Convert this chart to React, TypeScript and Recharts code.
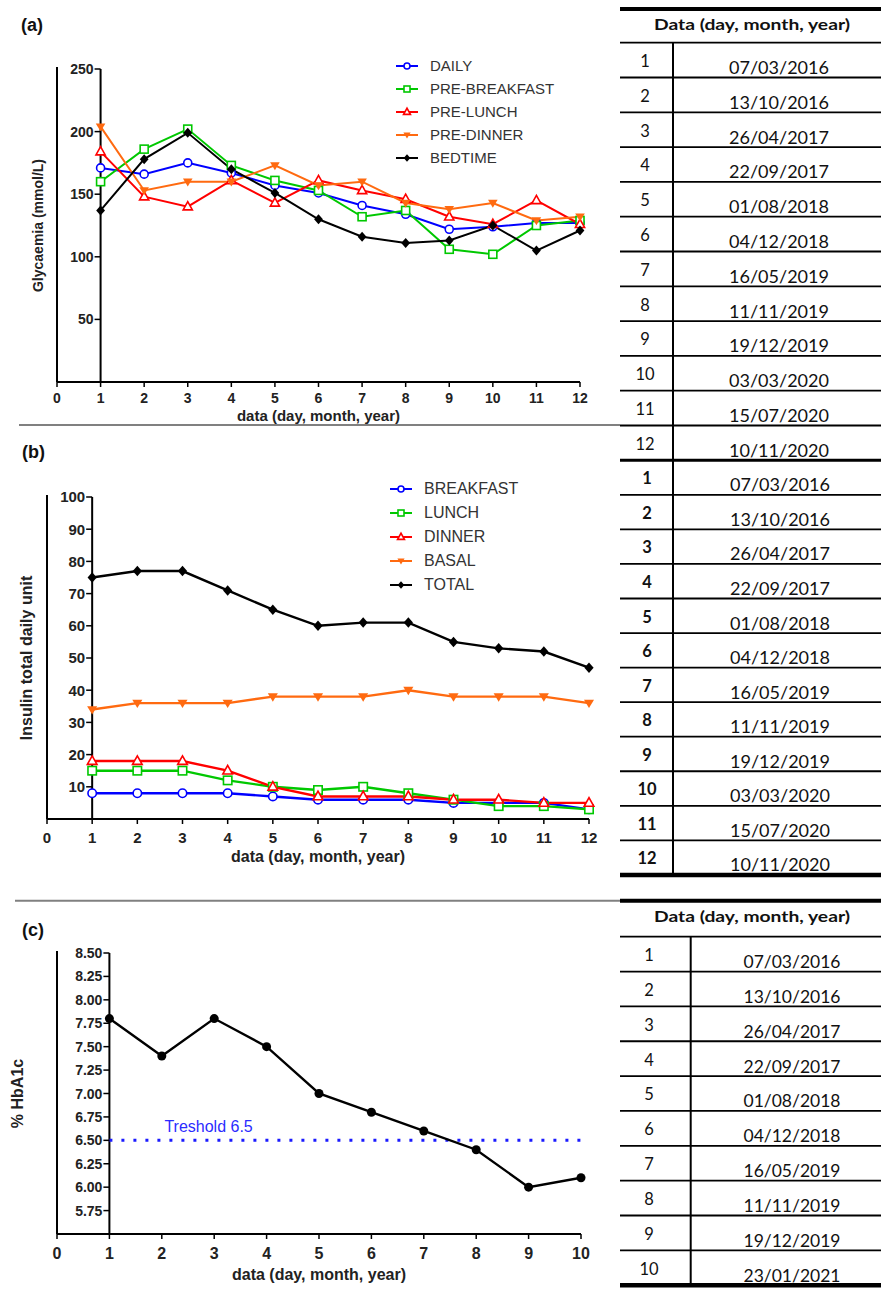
import React from "react";
import {
  LineChart,
  Line,
  XAxis,
  YAxis,
  ReferenceLine,
  Legend,
  Label,
} from "recharts";

// visit numbers (x axis)
const visits12 = [1, 2, 3, 4, 5, 6, 7, 8, 9, 10, 11, 12];
const visits10 = [1, 2, 3, 4, 5, 6, 7, 8, 9, 10];

// (a) glycaemia
const gDaily = [171, 166, 175, 167, 157, 151, 141, 134, 122, 124, 127, 127];
const gPreBreakfast = [160, 186, 202, 173, 161, 153, 132, 137, 106, 102, 125, 129];
const gPreLunch = [184, 148, 140, 161, 143, 161, 153, 146, 132, 126, 145, 126];
const gPreDinner = [204, 153, 160, 160, 173, 157, 160, 143, 138, 143, 129, 132];
const gBedtime = [137, 178, 199, 170, 151, 130, 116, 111, 113, 125, 105, 121];

// (b) insulin units
const iBreakfast = [8, 8, 8, 8, 7, 6, 6, 6, 5, 5, 5, 3];
const iLunch = [15, 15, 15, 12, 10, 9, 10, 8, 6, 4, 4, 3];
const iDinner = [18, 18, 18, 15, 10, 7, 7, 7, 6, 6, 5, 5];
const iBasal = [34, 36, 36, 36, 38, 38, 38, 40, 38, 38, 38, 36];
const iTotal = [75, 77, 77, 71, 65, 60, 61, 61, 55, 53, 52, 47];

// (c) HbA1c
const hba1c = [7.8, 7.4, 7.8, 7.5, 7.0, 6.8, 6.6, 6.4, 6.0, 6.1];
const threshold = 6.5;

// ticks
const xTicks12 = [0, 1, 2, 3, 4, 5, 6, 7, 8, 9, 10, 11, 12];
const xTicks10 = [0, 1, 2, 3, 4, 5, 6, 7, 8, 9, 10];
const yTicksA = [50, 100, 150, 200, 250];
const yTicksB = [10, 20, 30, 40, 50, 60, 70, 80, 90, 100];
const yTicksC = [5.75, 6, 6.25, 6.5, 6.75, 7, 7.25, 7.5, 7.75, 8, 8.25, 8.5];

// table dates
const datesAB = [
  "07/03/2016", "13/10/2016", "26/04/2017", "22/09/2017", "01/08/2018", "04/12/2018",
  "16/05/2019", "11/11/2019", "19/12/2019", "03/03/2020", "15/07/2020", "10/11/2020",
];
const datesC = [
  "07/03/2016", "13/10/2016", "26/04/2017", "22/09/2017", "01/08/2018", "04/12/2018",
  "16/05/2019", "11/11/2019", "19/12/2019", "23/01/2021",
];

const glyData = visits12.map((v, i) => ({
  v,
  daily: gDaily[i],
  preBreakfast: gPreBreakfast[i],
  preLunch: gPreLunch[i],
  preDinner: gPreDinner[i],
  bedtime: gBedtime[i],
}));
const insData = visits12.map((v, i) => ({
  v,
  breakfast: iBreakfast[i],
  lunch: iLunch[i],
  dinner: iDinner[i],
  basal: iBasal[i],
  total: iTotal[i],
}));
const hbData = visits10.map((v, i) => ({ v, hb: hba1c[i] }));

type Kind = "circle" | "square" | "triUp" | "triDown" | "diamond" | "dot";
type Series = { key: string; name: string; color: string; kind: Kind };

const BLUE = "#0000ff";
const GREEN = "#00c800";
const RED = "#ff0000";
const ORANGE = "#ff6a10";
const BLACK = "#000000";

const seriesA: Series[] = [
  { key: "daily", name: "DAILY", color: BLUE, kind: "circle" },
  { key: "preBreakfast", name: "PRE-BREAKFAST", color: GREEN, kind: "square" },
  { key: "preLunch", name: "PRE-LUNCH", color: RED, kind: "triUp" },
  { key: "preDinner", name: "PRE-DINNER", color: ORANGE, kind: "triDown" },
  { key: "bedtime", name: "BEDTIME", color: BLACK, kind: "diamond" },
];
const seriesB: Series[] = [
  { key: "breakfast", name: "BREAKFAST", color: BLUE, kind: "circle" },
  { key: "lunch", name: "LUNCH", color: GREEN, kind: "square" },
  { key: "dinner", name: "DINNER", color: RED, kind: "triUp" },
  { key: "basal", name: "BASAL", color: ORANGE, kind: "triDown" },
  { key: "total", name: "TOTAL", color: BLACK, kind: "diamond" },
];

const FONT = '"Liberation Sans", Arial, sans-serif';
const TABLE_FONT = 'Lato, "Open Sans", sans-serif';

// panel geometry: where each chart sits on the page and where its plot area is
const YW = 20;
const panelA = { top: 0, W: 600, H: 430, XH: 44, plotLeft: 57, m: { top: 69, right: 20, bottom: 4 } };
const panelB = { top: 430, W: 620, H: 440, XH: 46, plotLeft: 47, m: { top: 67, right: 31, bottom: 5 } };
const panelC = { top: 880, W: 620, H: 415, XH: 56, plotLeft: 57, m: { top: 73, right: 39, bottom: 5 } };
type Panel = typeof panelA;
const marginOf = (p: Panel) => ({ ...p.m, left: p.plotLeft - YW });
const plotBottomOf = (p: Panel) => p.H - p.m.bottom - p.XH;

function Marker({ kind, cx, cy, color, s }: { kind: Kind; cx: number; cy: number; color: string; s: number }) {
  const sw = 1.6;
  switch (kind) {
    case "circle":
      return <circle cx={cx} cy={cy} r={s} fill="#fff" stroke={color} strokeWidth={sw} />;
    case "square":
      return <rect x={cx - s} y={cy - s} width={2 * s} height={2 * s} fill="#fff" stroke={color} strokeWidth={sw} />;
    case "triUp":
      return (
        <polygon
          points={`${cx},${cy - s * 1.25} ${cx + s * 1.15},${cy + s * 0.8} ${cx - s * 1.15},${cy + s * 0.8}`}
          fill="#fff"
          stroke={color}
          strokeWidth={sw}
        />
      );
    case "triDown":
      return (
        <polygon
          points={`${cx - s * 1.2},${cy - s * 0.8} ${cx + s * 1.2},${cy - s * 0.8} ${cx},${cy + s * 1.2}`}
          fill={color}
        />
      );
    case "diamond":
      return (
        <polygon
          points={`${cx},${cy - s * 1.25} ${cx + s * 1.1},${cy} ${cx},${cy + s * 1.25} ${cx - s * 1.1},${cy}`}
          fill={color}
        />
      );
    default:
      return <circle cx={cx} cy={cy} r={s} fill={color} />;
  }
}

const dotFor = (kind: Kind, color: string, s: number) => (p: any) =>
  p.cx == null ? <g key={`e-${p.index}`} /> : (
    <Marker key={`${kind}-${p.index}`} kind={kind} cx={p.cx} cy={p.cy} color={color} s={s} />
  );

// y ticks sit on the vertical line drawn at x = 1, one x-unit right of the spine
function shiftedTick(shift: number, fontSize: number, digits: number) {
  return (p: any) => {
    const ax = p.x + shift;
    return (
      <g>
        <line x1={ax - 6} x2={ax} y1={p.y} y2={p.y} stroke="#000" strokeWidth={1.5} />
        <text
          x={ax - 7}
          y={p.y}
          dy="0.36em"
          textAnchor="end"
          fontSize={fontSize}
          fontWeight="bold"
          fill="#222"
          fontFamily={FONT}
        >
          {Number(p.payload.value).toFixed(digits)}
        </text>
      </g>
    );
  };
}

// legend drawn in the series' own order
function legendFor(series: Series[], rowH: number, fontSize: number) {
  return () => (
    <div style={{ display: "flex", flexDirection: "column" }}>
      {series.map((s) => (
        <div key={s.key} style={{ height: rowH, display: "flex", alignItems: "center" }}>
          <svg width={22} height={14}>
            <line x1={0} x2={22} y1={7} y2={7} stroke={s.color} strokeWidth={2} />
            <Marker kind={s.kind} cx={11} cy={7} color={s.color} s={3} />
          </svg>
          <span style={{ marginLeft: 12, fontSize, color: "#333", fontFamily: FONT, whiteSpace: "nowrap" }}>
            {s.name}
          </span>
        </div>
      ))}
    </div>
  );
}

const axisStroke = { stroke: "#000", strokeWidth: 2 };

function GlycaemiaChart() {
  const p = panelA;
  const m = marginOf(p);
  const unit = (p.W - p.plotLeft - m.right) / 12;
  return (
    <LineChart width={p.W} height={p.H} data={glyData} margin={m}>
      <XAxis
        dataKey="v"
        type="number"
        domain={[0, 12]}
        ticks={xTicks12}
        interval={0}
        height={p.XH}
        axisLine={axisStroke}
        tickLine={{ stroke: "#000", strokeWidth: 1.5 }}
        tickSize={5}
        tickMargin={6}
        tick={{ fill: "#222", fontSize: 14, fontWeight: "bold", fontFamily: FONT }}
      >
        <Label
          value="data (day, month, year)"
          position="insideBottom"
          offset={5}
          style={{ fontSize: 15, fontWeight: "bold", fill: "#222", fontFamily: FONT }}
        />
      </XAxis>
      <YAxis
        type="number"
        domain={[0, 250]}
        ticks={yTicksA}
        interval={0}
        width={YW}
        axisLine={axisStroke}
        stroke="#000"
        tickLine={false}
        tickSize={0}
        tickMargin={0}
        tick={shiftedTick(unit, 14, 0)}
      >
        <Label
          value="Glycaemia (mmol/L)"
          angle={-90}
          position="insideLeft"
          offset={1}
          style={{ textAnchor: "middle", fontSize: 14, fontWeight: "bold", fill: "#222", fontFamily: FONT }}
        />
      </YAxis>
      <ReferenceLine x={1} stroke="#000" strokeWidth={2} />
      <Legend
        layout="vertical"
        align="center"
        verticalAlign="middle"
        wrapperStyle={{ left: 396, top: 54, width: 200 }}
        content={legendFor(seriesA, 23, 15)}
      />
      {seriesA.map((s) => (
        <Line
          key={s.key}
          dataKey={s.key}
          name={s.name}
          type="linear"
          stroke={s.color}
          strokeWidth={2}
          dot={dotFor(s.kind, s.color, 4)}
          activeDot={false}
          isAnimationActive={false}
        />
      ))}
    </LineChart>
  );
}

function InsulinChart() {
  const p = panelB;
  const m = marginOf(p);
  const unit = (p.W - p.plotLeft - m.right) / 12;
  return (
    <LineChart width={p.W} height={p.H} data={insData} margin={m}>
      <XAxis
        dataKey="v"
        type="number"
        domain={[0, 12]}
        ticks={xTicks12}
        interval={0}
        height={p.XH}
        axisLine={axisStroke}
        tickLine={{ stroke: "#000", strokeWidth: 1.5 }}
        tickSize={5}
        tickMargin={8}
        tick={{ fill: "#222", fontSize: 15, fontWeight: "bold", fontFamily: FONT }}
      >
        <Label
          value="data (day, month, year)"
          position="insideBottom"
          offset={3}
          style={{ fontSize: 16, fontWeight: "bold", fill: "#222", fontFamily: FONT }}
        />
      </XAxis>
      <YAxis
        type="number"
        domain={[0, 100]}
        ticks={yTicksB}
        interval={0}
        width={YW}
        axisLine={axisStroke}
        stroke="#000"
        tickLine={false}
        tickSize={0}
        tickMargin={0}
        tick={shiftedTick(unit, 15, 0)}
      >
        <Label
          value="Insulin total daily unit"
          angle={-90}
          position="insideLeft"
          offset={-1}
          style={{ textAnchor: "middle", fontSize: 16, fontWeight: "bold", fill: "#222", fontFamily: FONT }}
        />
      </YAxis>
      <ReferenceLine x={1} stroke="#000" strokeWidth={2} />
      <Legend
        layout="vertical"
        align="center"
        verticalAlign="middle"
        wrapperStyle={{ left: 390, top: 47, width: 200 }}
        content={legendFor(seriesB, 24, 16)}
      />
      {seriesB.map((s) => (
        <Line
          key={s.key}
          dataKey={s.key}
          name={s.name}
          type="linear"
          stroke={s.color}
          strokeWidth={2.4}
          dot={dotFor(s.kind, s.color, 4.2)}
          activeDot={false}
          isAnimationActive={false}
        />
      ))}
    </LineChart>
  );
}

function HbA1cChart() {
  const p = panelC;
  const m = marginOf(p);
  const unit = (p.W - p.plotLeft - m.right) / 10;
  return (
    <LineChart width={p.W} height={p.H} data={hbData} margin={m}>
      <XAxis
        dataKey="v"
        type="number"
        domain={[0, 10]}
        ticks={xTicks10}
        interval={0}
        height={p.XH}
        axisLine={axisStroke}
        tickLine={{ stroke: "#000", strokeWidth: 1.5 }}
        tickSize={5}
        tickMargin={9}
        tick={{ fill: "#222", fontSize: 16, fontWeight: "bold", fontFamily: FONT }}
      >
        <Label
          value="data (day, month, year)"
          position="insideBottom"
          offset={10}
          style={{ fontSize: 16, fontWeight: "bold", fill: "#222", fontFamily: FONT }}
        />
      </XAxis>
      <YAxis
        type="number"
        domain={[5.5, 8.5]}
        ticks={yTicksC}
        interval={0}
        width={YW}
        axisLine={axisStroke}
        stroke="#000"
        tickLine={false}
        tickSize={0}
        tickMargin={0}
        tick={shiftedTick(unit, 14, 2)}
      >
        <Label
          value="% HbA1c"
          angle={-90}
          position="insideLeft"
          offset={-20}
          style={{ textAnchor: "middle", fontSize: 16, fontWeight: "bold", fill: "#222", fontFamily: FONT }}
        />
      </YAxis>
      <ReferenceLine x={1} stroke="#000" strokeWidth={2} />
      <ReferenceLine
        segment={[
          { x: 1, y: threshold },
          { x: 10, y: threshold },
        ]}
        stroke="#1a1aff"
        strokeWidth={3}
        strokeDasharray="3 9"
      >
        <Label
          value="Treshold 6.5"
          position="insideBottomLeft"
          offset={8}
          dx={47}
          style={{ fontSize: 16, fill: "#2b2bff", fontFamily: FONT }}
        />
      </ReferenceLine>
      <Line
        dataKey="hb"
        type="linear"
        stroke="#000"
        strokeWidth={2.4}
        dot={dotFor("dot", "#000", 4.5)}
        activeDot={false}
        isAnimationActive={false}
      />
    </LineChart>
  );
}

type TableProps = {
  headerTop?: number;
  rowsTop: number;
  rowH: number;
  dates: string[];
  numX: number;
  dateX: number;
  dateW: number;
  boldNums?: boolean;
};

function TableRows({ headerTop, rowsTop, rowH, dates, numX, dateX, dateW, boldNums }: TableProps) {
  const x0 = 620;
  const x1 = 881;
  return (
    <g>
      {headerTop != null && (
        <g>
          <line x1={x0} x2={x1} y1={headerTop} y2={headerTop} stroke="#000" strokeWidth={4} />
          <text
            x={752}
            y={headerTop + 21}
            textAnchor="middle"
            fontSize={16}
            fontWeight="bold"
            fontFamily={TABLE_FONT}
            fill="#111"
            textLength={196}
            lengthAdjust="spacingAndGlyphs"
          >
            Data (day, month, year)
          </text>
        </g>
      )}
      {dates.map((d, i) => {
        const top = rowsTop + i * rowH;
        const bottom = top + rowH;
        return (
          <g key={`${rowsTop}-${i}`}>
            <line x1={x0} x2={x1} y1={top} y2={top} stroke="#000" strokeWidth={i === 0 && headerTop == null ? 3 : 1.8} />
            <text
              x={numX}
              y={bottom - 10.5}
              textAnchor="middle"
              fontSize={16.5}
              fontWeight={boldNums ? "bold" : "normal"}
              fontFamily={TABLE_FONT}
              fill="#111"
            >
              {i + 1}
            </text>
            <text
              x={dateX}
              y={bottom - 3.5}
              textAnchor="middle"
              fontSize={16.5}
              fontFamily={TABLE_FONT}
              fill="#111"
              textLength={dateW}
              lengthAdjust="spacingAndGlyphs"
            >
              {d}
            </text>
          </g>
        );
      })}
    </g>
  );
}

// left spine of each panel (the frame line at x = 0), from plot top to the x axis
function Spine({ p }: { p: Panel }) {
  return (
    <line
      x1={p.plotLeft}
      x2={p.plotLeft}
      y1={p.top + p.m.top - 2}
      y2={p.top + plotBottomOf(p)}
      stroke="#000"
      strokeWidth={2}
    />
  );
}

function Overlay() {
  const rowA = 34.8;
  const topA = 42.7;
  const topB = topA + 12 * rowA;
  const rowB = 34.55;
  const endB = topB + 12 * rowB;
  const topC = 936.7;
  const rowC = 34.85;
  const endC = topC + 10 * rowC;
  const panel = { fontSize: 18, fontWeight: "bold" as const, fontFamily: FONT, fill: "#111" };
  return (
    <svg width={881} height={1295} style={{ position: "absolute", left: 0, top: 0, pointerEvents: "none" }}>
      <text x={21} y={31} {...panel}>(a)</text>
      <text x={22} y={458} {...panel}>(b)</text>
      <text x={22} y={936} {...panel}>(c)</text>
      <line x1={19} x2={620} y1={425} y2={425} stroke="#808080" strokeWidth={2} />
      <line x1={15} x2={620} y1={900.7} y2={900.7} stroke="#808080" strokeWidth={2} />

      <Spine p={panelA} />
      <Spine p={panelB} />
      <Spine p={panelC} />

      <TableRows headerTop={9} rowsTop={topA} rowH={rowA} dates={datesAB} numX={645} dateX={779} dateW={100} />
      <TableRows rowsTop={topB} rowH={rowB} dates={datesAB} numX={647} dateX={780} dateW={100} boldNums />
      <line x1={620} x2={881} y1={endB} y2={endB} stroke="#000" strokeWidth={4.5} />
      <line x1={673} x2={673} y1={topA} y2={endB} stroke="#000" strokeWidth={2} />

      <TableRows headerTop={900.7} rowsTop={topC} rowH={rowC} dates={datesC} numX={649} dateX={792} dateW={97} />
      <line x1={620} x2={881} y1={endC} y2={endC} stroke="#000" strokeWidth={4.5} />
      <line x1={690.7} x2={690.7} y1={topC} y2={endC} stroke="#000" strokeWidth={2} />
    </svg>
  );
}

export default function App() {
  return (
    <div
      style={{
        position: "absolute",
        left: 0,
        top: 0,
        width: 881,
        height: 1295,
        background: "#fff",
        overflow: "hidden",
        fontFamily: FONT,
      }}
    >
      <div style={{ position: "absolute", left: 0, top: panelA.top }}>
        <GlycaemiaChart />
      </div>
      <div style={{ position: "absolute", left: 0, top: panelB.top }}>
        <InsulinChart />
      </div>
      <div style={{ position: "absolute", left: 0, top: panelC.top }}>
        <HbA1cChart />
      </div>
      <Overlay />
    </div>
  );
}
